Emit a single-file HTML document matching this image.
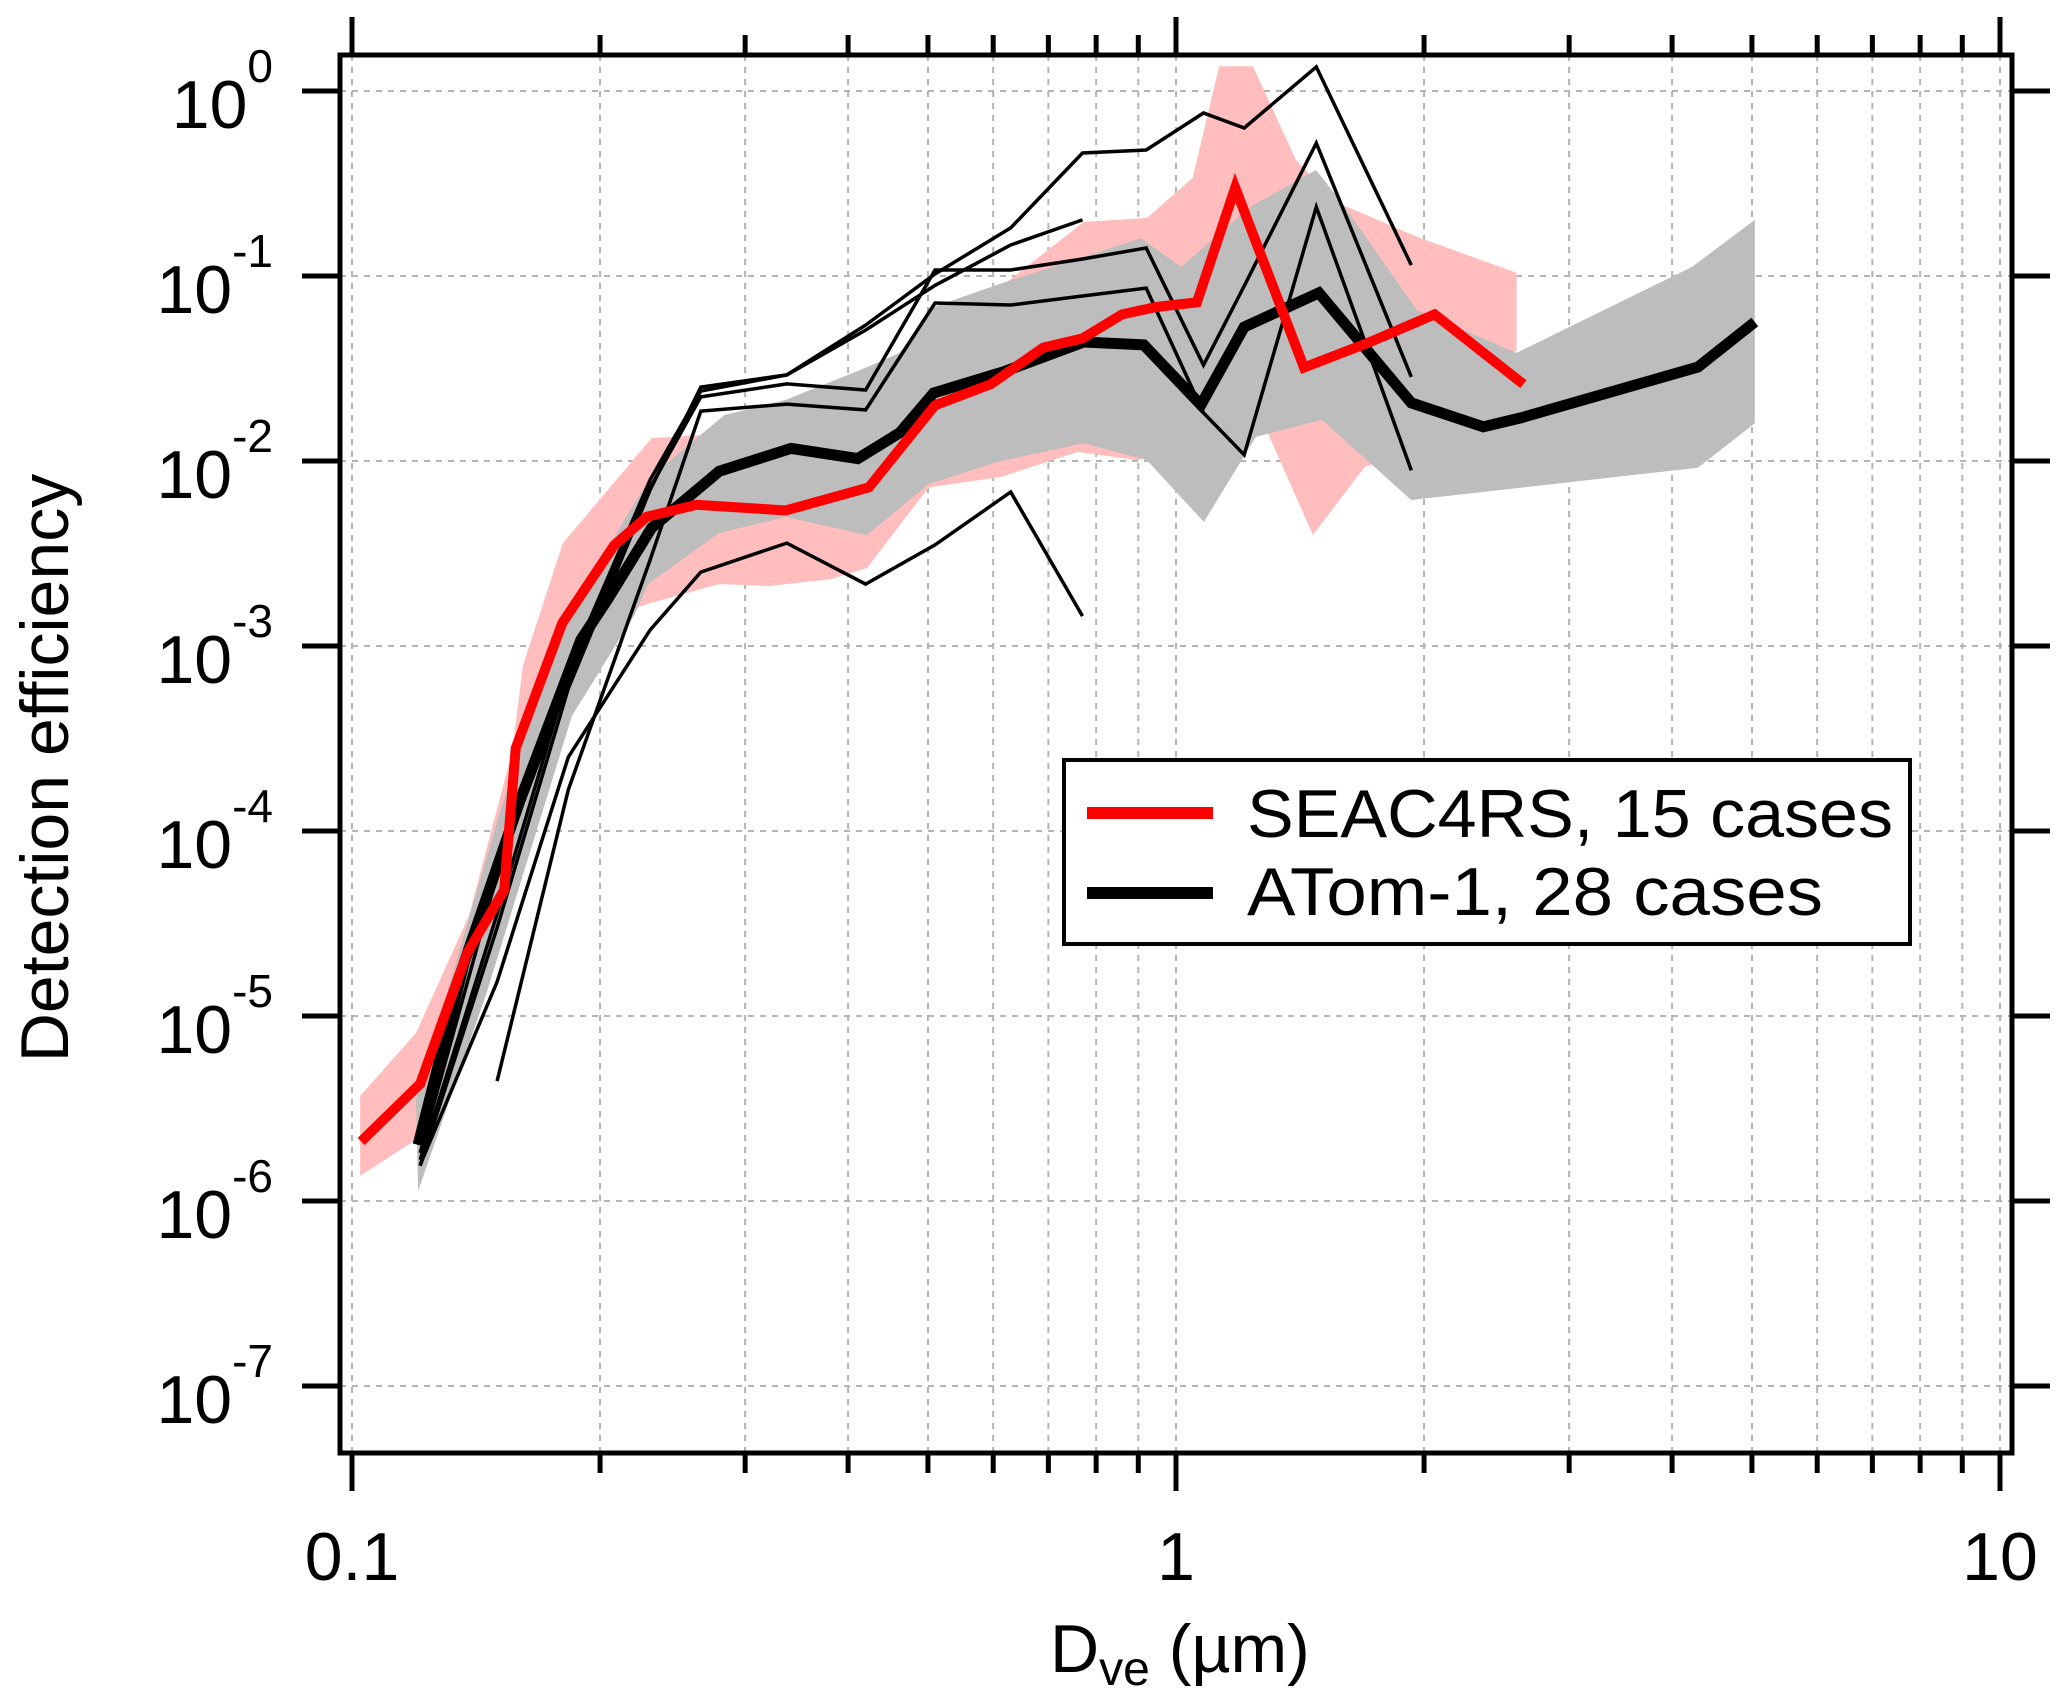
<!DOCTYPE html>
<html><head><meta charset="utf-8"><style>
html,body{margin:0;padding:0;background:#fff;}
svg{display:block;font-family:"Liberation Sans",Arial,sans-serif;}
</style></head><body>
<svg id="chart" width="2067" height="1707" viewBox="0 0 2067 1707" xmlns="http://www.w3.org/2000/svg">
<g id="grid"></g>
<g id="bands"></g>
<g id="thin"></g>
<g id="means"></g>
<g id="axes"></g>
<text x="0" y="0" transform="translate(68,768) rotate(-90)" text-anchor="middle" font-size="68">Detection efficiency</text>
<text x="1050" y="1672" font-size="68">D<tspan font-size="48" dy="13">ve</tspan><tspan dy="-13"> (µm)</tspan></text>
<g>
<rect x="1064" y="760" width="846" height="184" fill="#fff" stroke="#000" stroke-width="4"/>
<line x1="1087" y1="813" x2="1213" y2="813" stroke="#ff0000" stroke-width="12"/>
<text x="1247" y="837" font-size="68" textLength="646" lengthAdjust="spacingAndGlyphs">SEAC4RS, 15 cases</text>
<line x1="1087" y1="893" x2="1213" y2="893" stroke="#000" stroke-width="12"/>
<text x="1247" y="915" font-size="68" textLength="576" lengthAdjust="spacingAndGlyphs">ATom-1, 28 cases</text>
</g>
</svg>
<script>
// ---- data ----
const redX = [0.1026,0.121,0.138,0.153,0.158,0.180,0.208,0.228,0.262,0.297,0.336,0.424,0.51,0.596,0.69,0.77,0.86,0.946,1.06,1.18,1.43,1.72,2.06,2.64];
const redY = [2.1e-6,4.3e-6,2.2e-5,4.8e-5,2.8e-4,1.33e-3,3.5e-3,5.0e-3,5.8e-3,5.6e-3,5.4e-3,7.2e-3,2.0e-2,2.6e-2,4.1e-2,4.6e-2,6.2e-2,6.8e-2,7.2e-2,0.30,3.2e-2,4.4e-2,6.2e-2,2.6e-2];
const pinkUpX = [0.1023,0.1196,0.1387,0.1564,0.1613,0.1803,0.231,0.2797,0.340,0.425,0.517,0.608,0.773,0.922,1.048,1.128,1.24,1.398,1.563,1.96,2.59];
const pinkUpY = [3.7e-6,8.1e-6,3.5e-5,2.67e-4,7.9e-4,3.6e-3,1.33e-2,1.4e-2,1.5e-2,2.0e-2,5.5e-2,8.5e-2,0.196,0.206,0.339,1.36,1.36,0.424,0.251,0.163,0.104];
const pinkLoX = [0.1023,0.1196,0.1406,0.1525,0.1788,0.200,0.2286,0.279,0.3206,0.3813,0.4217,0.501,0.613,0.760,0.899,1.07,1.288,1.466,1.695,1.96,2.59];
const pinkLoY = [1.37e-6,2.14e-6,1.98e-5,3.98e-5,5.1e-4,1.38e-3,1.69e-3,2.16e-3,2.11e-3,2.30e-3,2.64e-3,7.2e-3,8.2e-3,1.12e-2,1.01e-2,1.30e-2,1.47e-2,3.98e-3,9.3e-3,1.15e-2,3.98e-2];
const blackX = [0.1203,0.137,0.160,0.1896,0.2045,0.231,0.279,0.341,0.411,0.462,0.508,0.617,0.773,0.914,1.072,1.21,1.491,1.93,2.36,2.62,4.30,5.04];
const blackY = [2.01e-6,1.98e-5,1.47e-4,1.08e-3,1.80e-3,4.35e-3,8.8e-3,1.17e-2,1.03e-2,1.42e-2,2.33e-2,3.03e-2,4.40e-2,4.24e-2,2.01e-2,5.3e-2,8.1e-2,2.06e-2,1.53e-2,1.71e-2,3.22e-2,5.64e-2];
const grayUpX = [0.1196,0.1322,0.1555,0.1849,0.215,0.231,0.283,0.336,0.4135,0.462,0.508,0.617,0.907,1.014,1.23,1.479,1.59,1.96,2.59,4.23,5.04];
const grayUpY = [3.56e-6,1.64e-5,1.93e-4,1.49e-3,4.98e-3,8.3e-3,1.77e-2,2.14e-2,3.1e-2,3.84e-2,6.8e-2,9.2e-2,0.160,0.112,0.236,0.374,0.248,6.55e-2,3.84e-2,0.112,0.201];
const grayLoX = [0.1203,0.1458,0.1849,0.2205,0.2286,0.279,0.336,0.4217,0.501,0.608,0.773,0.922,1.081,1.25,1.503,1.93,4.30,5.04];
const grayLoY = [1.13e-6,1.35e-5,4.19e-4,1.49e-3,2.16e-3,4.08e-3,4.98e-3,3.98e-3,7.5e-3,9.9e-3,1.25e-2,1.01e-2,4.68e-3,1.35e-2,1.67e-2,6.15e-3,9.2e-3,1.60e-2];
const thinX = [0.121,0.15,0.183,0.23,0.265,0.337,0.42,0.51,0.63,0.77,0.92,1.08,1.21,1.48,1.93];
const caseA = [1.67e-6,3.56e-5,6.9e-4,7.15e-3,2.22e-2,2.61e-2,2.42e-2,0.1077,0.1077,0.1236,0.1417,3.30e-2,8.83e-2,0.523,2.85e-2];
const caseB = [null,4.45e-6,1.67e-4,2.92e-3,1.86e-2,2.03e-2,1.89e-2,7.15e-2,6.97e-2,7.8e-2,8.6e-2,1.82e-2,1.08e-2,0.236,8.9e-3];
const caseC = [1.55e-6,3.0e-5,5.9e-4,6.97e-3,2.51e-2,2.92e-2,5.43e-2,0.1025,0.182,0.462,0.480,0.760,0.631,1.35,0.1146];
const caseD = [1.82e-6,5.8e-5,7.5e-4,7.9e-3,2.39e-2,2.92e-2,5.1e-2,8.9e-2,0.147,0.201,null,null,null,null,null];
const caseE = [1.57e-6,1.53e-5,2.51e-4,1.22e-3,2.51e-3,3.6e-3,2.16e-3,3.52e-3,6.8e-3,1.45e-3,null,null,null,null,null];
const yTickExp = [0,-1,-2,-3,-4,-5,-6,-7];
const xMajor = [0.1,1,10];
const xMajorLabels = ["0.1","1","10"];

// ---- axis functions ----
const L=340,R=2012,T=55,B=1453;
function X(v){return 352+824*(Math.log10(v)+1);}
function Y(v){return 91-185*Math.log10(v);}
const NS="http://www.w3.org/2000/svg";
function mk(tag,attrs,parent){const e=document.createElementNS(NS,tag);for(const k in attrs)e.setAttribute(k,attrs[k]);parent.appendChild(e);return e;}
const grid=document.getElementById('grid'),axes=document.getElementById('axes'),bands=document.getElementById('bands'),thin=document.getElementById('thin'),means=document.getElementById('means');

const xMinor=[];
for(let d=-1;d<=0;d++)for(let m=2;m<=9;m++)xMinor.push(m*Math.pow(10,d));
xMajor.concat(xMinor).forEach(v=>{
  const g=mk('line',{x1:X(v),x2:X(v),y1:T,y2:B,stroke:'#b4b4b4','stroke-width':2,'stroke-dasharray':'6,6'},grid);
  
  
});
yTickExp.forEach(e=>{
  const g=mk('line',{x1:L,x2:R,y1:Y(Math.pow(10,e)),y2:Y(Math.pow(10,e)),stroke:'#b4b4b4','stroke-width':2,'stroke-dasharray':'6,6'},grid);
  
  
});

function poly(ux,uy,lx,ly,fill,name){
  let pts=[];
  for(let i=0;i<ux.length;i++)pts.push(X(ux[i])+','+Math.max(T,Y(uy[i])));
  for(let i=lx.length-1;i>=0;i--)pts.push(X(lx[i])+','+Y(ly[i]));
  const p=mk('polygon',{points:pts.join(' '),fill:fill},bands);
  
  
}
poly(pinkUpX,pinkUpY,pinkLoX,pinkLoY,'#ffbdbd','seac4rs-range-band');
poly(grayUpX,grayUpY,grayLoX,grayLoY,'#bdbdbd','atom1-range-band');

function line(xs,ys,stroke,w,parent,name){
  let pts=[];
  for(let i=0;i<xs.length;i++)if(ys[i]!==null)pts.push(X(xs[i]).toFixed(1)+','+Y(ys[i]).toFixed(1));
  const p=mk('polyline',{points:pts.join(' '),fill:'none',stroke:stroke,'stroke-width':w,'stroke-linejoin':'miter'},parent);
  
  
}
[caseA,caseB,caseC,caseD,caseE].forEach(c=>line(thinX,c,'#000',3.5,thin,'atom1-case-line'));
line(blackX,blackY,'#000',11,means,'atom1-mean-line');
line(redX,redY,'#ff0000',10,means,'seac4rs-mean-line');

const fr=mk('rect',{x:L,y:T,width:R-L,height:B-T,fill:'none',stroke:'#000','stroke-width':5},axes);


xMajor.concat(xMinor).forEach(v=>{
  const len=xMajor.includes(v)?38:20;
  const t1=mk('line',{x1:X(v),x2:X(v),y1:B,y2:B+len,stroke:'#000','stroke-width':5},axes);
  
  
  const t2=mk('line',{x1:X(v),x2:X(v),y1:T,y2:T-len,stroke:'#000','stroke-width':5},axes);
  
  
});
xMajor.forEach((v,i)=>{
  const t=mk('text',{x:X(v),y:1580,'text-anchor':'middle','font-size':68},axes);
  t.textContent=xMajorLabels[i];
  
  
});
yTickExp.forEach(e=>{
  const y=Y(Math.pow(10,e));
  const a=mk('line',{x1:302,x2:L,y1:y,y2:y,stroke:'#000','stroke-width':5},axes);
  
  
  const b=mk('line',{x1:R,x2:2050,y1:y,y2:y,stroke:'#000','stroke-width':5},axes);
  
  
  const t=mk('text',{x:273,y:y+37,'text-anchor':'end','font-size':68},axes);
  
  
  const s1=mk('tspan',{},t);s1.textContent='10';
  const s2=mk('tspan',{'font-size':46,dy:-46},t);s2.textContent=String(e);
});
</script>
</body></html>
